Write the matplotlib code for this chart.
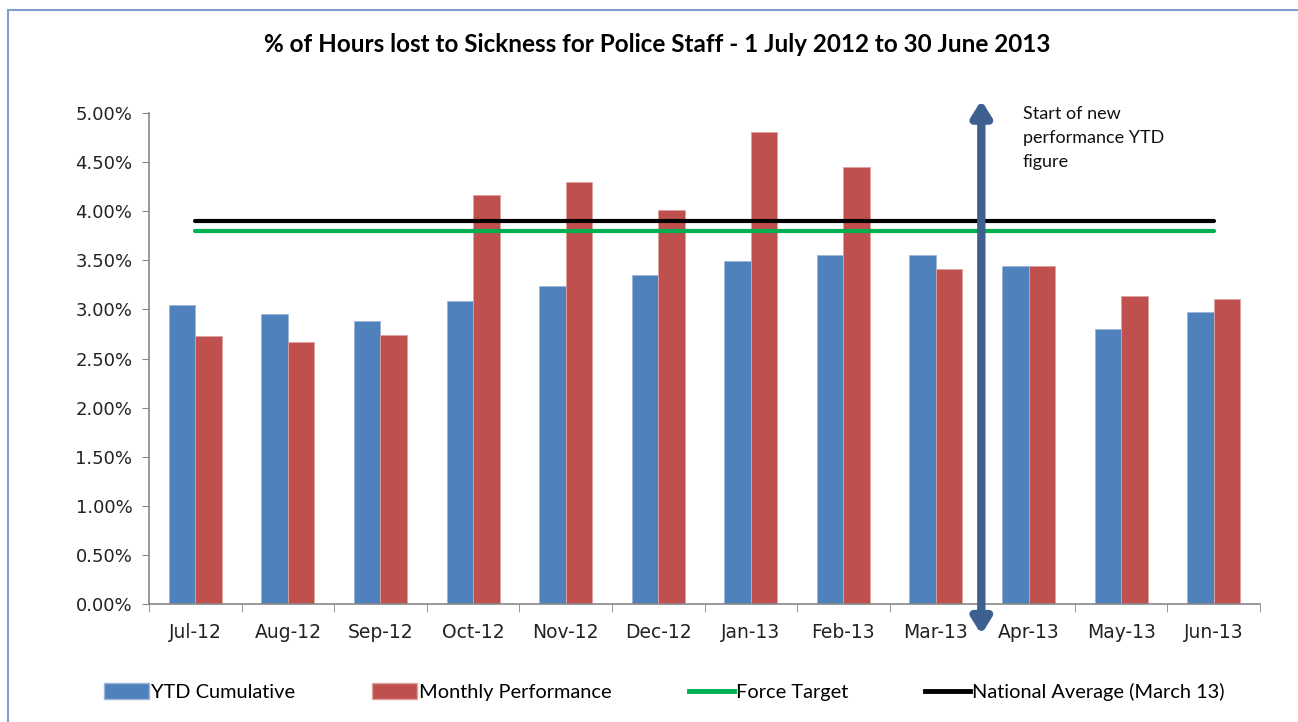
import matplotlib
matplotlib.use("Agg")
import matplotlib.pyplot as plt
import numpy as np
from matplotlib.ticker import FuncFormatter
from matplotlib.lines import Line2D
from matplotlib.patches import Patch

# data (percent of hours lost)
months = ["Jul-12", "Aug-12", "Sep-12", "Oct-12", "Nov-12", "Dec-12",
          "Jan-13", "Feb-13", "Mar-13", "Apr-13", "May-13", "Jun-13"]
ytd_cumulative = [3.04, 2.95, 2.88, 3.09, 3.24, 3.35, 3.49, 3.55, 3.55, 3.44, 2.80, 2.97]
monthly_perf = [2.73, 2.67, 2.74, 4.16, 4.30, 4.01, 4.81, 4.45, 3.41, 3.44, 3.14, 3.11]
force_target = [3.80] * 12
national_avg = [3.90] * 12

title = "% of Hours lost to Sickness for Police Staff - 1 July 2012 to 30 June 2013"
note = "Start of new\nperformance YTD\nfigure"

blue = "#4F81BD"
red = "#C0504D"
green = "#00B050"
arrow_col = "#3D6090"
axis_col = "#878787"
txt_font = ["Lato", "DejaVu Sans"]

fig = plt.figure(figsize=(12.98, 7.22), dpi=100)
ax = fig.add_axes([149/1298, 1-604/722, (1260-149)/1298, (604-113)/722])

x = np.arange(len(months))
w = 0.286
ax.bar(x - w/2, ytd_cumulative, w, color=blue, edgecolor="#9DB6D8", linewidth=0.6, zorder=2)
ax.bar(x + w/2, monthly_perf, w, color=red, edgecolor="#DCA2A0", linewidth=0.6, zorder=2)
ax.plot(x, force_target, color=green, lw=3, solid_capstyle="round", zorder=3)
ax.plot(x, national_avg, color="black", lw=3, solid_capstyle="round", zorder=3)

ax.set_xlim(-0.5, 11.5)
ax.set_ylim(0, 5)
ax.set_yticks(np.arange(0, 5.01, 0.5))
ax.yaxis.set_major_formatter(FuncFormatter(lambda v, p: "%.2f%%" % v))
ax.set_xticks(x)
ax.set_xticklabels(months)
ax.set_xticks(np.arange(-0.5, 12, 1), minor=True)
ax.tick_params(axis="x", which="major", length=0, pad=14, labelsize=13.5, colors="#222222")
ax.tick_params(axis="x", which="minor", length=6, color=axis_col)
ax.tick_params(axis="y", length=5, color=axis_col, labelsize=13, labelcolor="#222222", pad=7)
for s in ["top", "right"]:
    ax.spines[s].set_visible(False)
for s in ["left", "bottom"]:
    ax.spines[s].set_color(axis_col)
    ax.spines[s].set_linewidth(1.2)

# double headed arrow between Mar-13 and Apr-13
ax.annotate("", xy=(8.49, 5.13), xytext=(8.49, -0.31),
            arrowprops=dict(arrowstyle="<|-|>,head_length=0.45,head_width=0.28",
                            color=arrow_col, lw=6, shrinkA=0, shrinkB=0,
                            mutation_scale=20),
            annotation_clip=False, zorder=4)
ax.text(8.94, 5.07, note, fontsize=13, family=txt_font, va="top", ha="left",
        linespacing=1.6, color="#111111")

fig.text(0.506, 1-45/722, title, fontsize=17.5, fontweight="bold", family=txt_font,
         ha="center", va="center")

handles = [Patch(facecolor=blue, edgecolor="#9DB6D8"),
           Patch(facecolor=red, edgecolor="#DCA2A0"),
           Line2D([], [], color=green, lw=3.5),
           Line2D([], [], color="black", lw=3.5)]
labels = ["YTD Cumulative", "Monthly Performance", "Force Target", "National Average (March 13)"]
fig.legend(handles, labels, loc="center", bbox_to_anchor=(0.512, 1-692/722), ncol=4,
           frameon=False, prop={"family": txt_font, "size": 14.4}, handlelength=2.25,
           handleheight=0.8, handletextpad=0.1, columnspacing=3.85)

# chart border
fig.add_artist(Line2D([8/1298, 8/1298], [0, 1-10/722], color="#7F9FCF", lw=1.5))
fig.add_artist(Line2D([8/1298, 1], [1-10/722, 1-10/722], color="#7F9FCF", lw=1.5))

fig.savefig("out.png", dpi=100)
